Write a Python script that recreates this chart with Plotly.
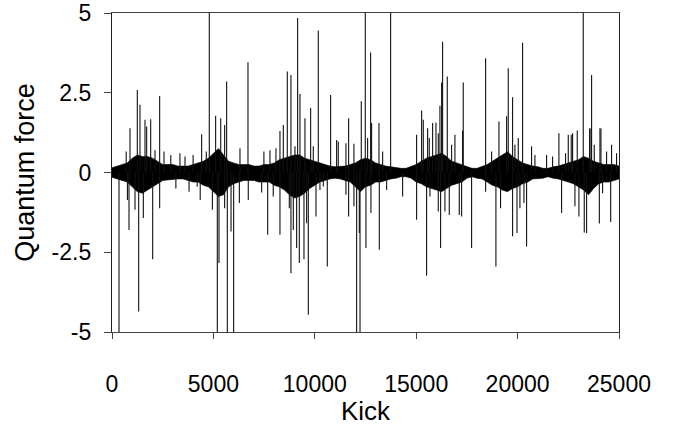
import plotly.graph_objects as go

# Dense noise band: upper / lower envelope read every 250 kicks
band_kick = list(range(0, 25001, 250))
band_upper = [0.15, 0.2, 0.25, 0.3, 0.45, 0.55, 0.5, 0.5, 0.45, 0.35,
              0.25, 0.25, 0.25, 0.2, 0.2, 0.2, 0.25, 0.3, 0.35, 0.45,
              0.6, 0.75, 0.55, 0.35, 0.3, 0.25, 0.25, 0.25, 0.2, 0.2,
              0.25, 0.25, 0.3, 0.4, 0.45, 0.5, 0.55, 0.55, 0.45, 0.4,
              0.35, 0.3, 0.25, 0.2, 0.18, 0.18, 0.2, 0.25, 0.3, 0.4,
              0.45, 0.4, 0.3, 0.25, 0.2, 0.18, 0.15, 0.13, 0.13, 0.18,
              0.25, 0.35, 0.45, 0.5, 0.55, 0.6, 0.5, 0.35, 0.3, 0.25,
              0.18, 0.13, 0.13, 0.18, 0.25, 0.35, 0.45, 0.55, 0.65, 0.5,
              0.4, 0.3, 0.25, 0.2, 0.18, 0.13, 0.13, 0.18, 0.2, 0.25,
              0.3, 0.35, 0.4, 0.5, 0.45, 0.35, 0.3, 0.25, 0.25, 0.25,
              0.2]
band_lower = [-0.15, -0.2, -0.25, -0.3, -0.45, -0.6, -0.65, -0.55, -0.45, -0.35,
              -0.25, -0.22, -0.22, -0.2, -0.2, -0.25, -0.3, -0.3, -0.4, -0.45,
              -0.6, -0.75, -0.7, -0.45, -0.35, -0.3, -0.25, -0.25, -0.25, -0.3,
              -0.3, -0.3, -0.4, -0.45, -0.55, -0.7, -0.8, -0.75, -0.65, -0.5,
              -0.4, -0.3, -0.25, -0.2, -0.18, -0.2, -0.25, -0.3, -0.45, -0.6,
              -0.45, -0.4, -0.3, -0.3, -0.25, -0.2, -0.18, -0.13, -0.13, -0.18,
              -0.3, -0.35, -0.45, -0.5, -0.55, -0.6, -0.5, -0.4, -0.35, -0.3,
              -0.18, -0.13, -0.18, -0.2, -0.3, -0.4, -0.45, -0.55, -0.6, -0.5,
              -0.45, -0.35, -0.3, -0.2, -0.18, -0.18, -0.13, -0.18, -0.2, -0.25,
              -0.3, -0.35, -0.45, -0.55, -0.7, -0.5, -0.35, -0.3, -0.3, -0.25,
              -0.2]

# Individual spikes (kick, quantum force)
spike_kick = [345, 700, 760, 838, 887, 1134, 1248, 1315, 1380, 1545, 1627, 1709,
              1907, 2006, 2120, 2350, 2350, 2564, 2900, 3150, 3350, 3600, 3800,
              4000, 4200, 4350, 4420, 4650, 4798, 4950, 5110, 5193, 5275, 5360,
              5554, 5554, 5653, 5686, 5870, 5998, 6280, 6310, 6705, 6720, 7379,
              7490, 7677, 7790, 7950, 8085, 8282, 8282, 8447, 8644, 8743, 8824,
              8824, 8940, 9022, 9104, 9153, 9236, 9268, 9466, 9515, 9597, 9680,
              9795, 9926, 10058, 10172, 10254, 10419, 10616, 10780, 11076, 11158,
              11536, 11536, 11668, 11668, 11930, 11930, 12063, 12194, 12230,
              12292, 12489, 12522, 12604, 12752, 12768, 12801, 13164, 13180,
              13345, 13542, 13739, 14330, 15020, 15020, 15267, 15349, 15513,
              15563, 15644, 15678, 15809, 15974, 16089, 16089, 16170, 16203,
              16253, 16302, 16417, 16532, 16631, 16746, 16910, 17124, 17239,
              17288, 17320, 17732, 18422, 18422, 18718, 18931, 19080, 19160,
              19457, 19539, 19753, 19753, 19868, 19970, 20032, 20115, 20246,
              20312, 20443, 20689, 20854, 21429, 21725, 22037, 22169, 22366,
              22498, 22645, 22712, 22827, 22942, 23024, 23237, 23287, 23402,
              23550, 23616, 23649, 23780, 24030, 24060, 24110, 24191, 24388,
              24590, 24634, 24880]
spike_value = [-5, 0.66, -0.86, -1.8, 1.39, -1.17, 2.59, -4.36, 2.12, -1.43, 1.65, 1.44,
               1.67, -2.72, 0.7, 2.4, -1.12, 0.66, 0.55, -0.5, 0.6, 0.5, -0.6,
               0.55, -0.45, -0.86, 1.2, 0.66, 5, -1.17, 1.78, -5, -2.84, 1.7,
               1.49, -1.12, 2.85, -5, -1.85, -5, -0.96, 0.76, 3.46, -0.86, -0.63,
               0.66, -1.95, 0.7, -0.75, 0.76, 1.3, -1.95, 1.49, 3.17, -1.12, 3.06,
               -3.16, -1.8, 0.82, -2.37, 4.84, -2.84, 2.46, -2.72, 1.7, -1.59, -4.46,
               2.02, 0.82, -1.38, 4.45, -0.55, -0.44, -2.95, 2.43, 1.02, 0.97,
               -0.7, 0.92, 1.7, -1.38, 0.9, -1.06, -5, -1.9, -5,
               2.23, 5, -2.37, 1.08, 3.76, -1.27, 1.55, 1.55, -2.42,
               0.66, -0.55, 5, -0.75, 1.18, -1.48, 1.94, 1.65, -3.24,
               1.39, 1.08, -0.75, 1.55, 1.57, 1.23, -1.22, 2.09, -2.37,
               2.82, 4.1, -1.22, 3.01, -1.33, 0.87, 1.18, -1.33, -1.38,
               1.32, 2.82, -2.37, 3.58, -0.6, 0.66, -2.95, 1.6, -1.12,
               1.76, 3.27, 2.36, -2.0, 0.87, -1.9, 1.08, -1.12, 4.07,
               -0.96, -2.32, 0.82, 0.55, 0.55, 0.5, 1.23, -1.27, 0.6,
               1.18, 1.18, 1.23, -1.06, 1.32, -1.38, 5, -1.88, -1.9,
               1.38, 1.39, 3.06, 0.87, -1.6, 1.39, 1.38, -0.65, 0.66,
               -1.55, 0.87, 0.6]

x_ticks = [0, 5000, 10000, 15000, 20000, 25000]
x_tick_text = ["0", "5000", "10000", "15000", "20000", "25000"]
y_ticks = [-5, -2.5, 0, 2.5, 5]
y_tick_text = ["-5", "-2.5", "0", "2.5", "5"]

sx, sy = [], []
for k, v in zip(spike_kick, spike_value):
    sx += [k, k, None]
    sy += [0, v, None]

fig = go.Figure()
fig.add_trace(go.Scatter(
    x=band_kick + band_kick[::-1],
    y=band_upper + band_lower[::-1],
    fill="toself", fillcolor="black", mode="lines",
    line=dict(color="black", width=0.6), hoverinfo="skip", showlegend=False))
fig.add_trace(go.Scatter(
    x=sx, y=sy, mode="lines", line=dict(color="#111", width=1.1),
    hoverinfo="skip", showlegend=False, connectgaps=False))

font = "Liberation Sans, Arial, sans-serif"
fig.update_layout(
    width=677, height=426,
    margin=dict(l=112, r=58, t=13, b=94, autoexpand=False),
    paper_bgcolor="white", plot_bgcolor="white",
    font=dict(family=font, color="black"),
    xaxis=dict(range=[0, 25000], tickvals=x_ticks, ticktext=x_tick_text,
               ticks="outside", ticklen=6, automargin=False,
               tickwidth=1, tickcolor="#444", showgrid=False, zeroline=False,
               showline=True, linecolor="#444", linewidth=1, mirror=True,
               tickfont=dict(size=23, family=font), ticklabelstandoff=25,
               title=dict(text="Kick", font=dict(size=26, family=font), standoff=6)),
    yaxis=dict(range=[-5, 5], tickvals=y_ticks, ticktext=y_tick_text,
               ticks="outside", ticklen=7, tickwidth=1, tickcolor="#444",
               automargin=False,
               showgrid=False, zeroline=False, showline=True, linecolor="#222",
               linewidth=1.3, mirror=True, tickfont=dict(size=23, family=font),
               ticklabelstandoff=8,
               title=dict(text="Quantum force", font=dict(size=27, family=font),
                          standoff=9)),
)

fig.write_html("out.html", config={"displayModeBar": False},
               post_script="document.body.style.margin='0';")
